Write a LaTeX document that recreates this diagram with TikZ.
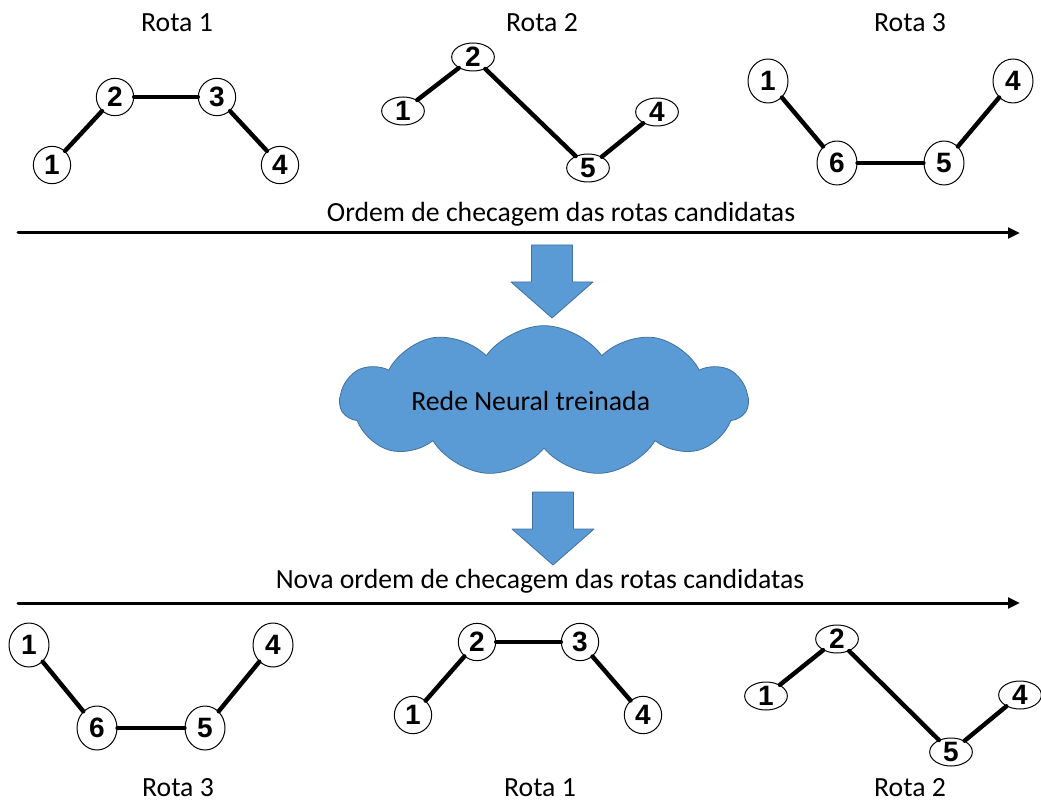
\documentclass[tikz,border=0pt]{standalone}
\usepackage{fontspec}
\setmainfont{Carlito}
\newfontfamily\digitfont{Liberation Sans}
\usetikzlibrary{arrows.meta,shapes.symbols,shapes.geometric}
\definecolor{cloudblue}{RGB}{91,155,213}
\definecolor{cloudedge}{RGB}{65,113,156}
\tikzset{
	city/.style={draw,ellipse,line width=.75pt,fill=white,inner sep=0pt,font=\digitfont\bfseries\fontsize{21}{21}\selectfont},
	rone/.style={city,minimum width=28pt,minimum height=28pt},
	rtwo/.style={city,minimum width=32pt,minimum height=21pt},
	rthree/.style={city,minimum width=30pt,minimum height=33pt},
	trecho/.style={line width=3.3pt},
	seta/.style={line width=2.25pt,-{Triangle[length=9pt,width=8pt]}},
	bloco/.style={fill=cloudblue,draw=cloudedge,line width=.6pt},
}
\begin{document}
\begin{tikzpicture}[x=.75pt,y=-.75pt,font=\fontsize{20.8}{24}\selectfont, line join=round, line cap=round]
	\useasboundingbox (0,0) rectangle (1041,805);
	% ordem original
	\path
	(177,23) node (tr1) {Rota 1}
	(542,23) node (tr2) {Rota 2}
	(910,23) node (tr3) {Rota 3}
	(52,165) node[rone] (t11) {1}
	(115,97) node[rone] (t12) {2}
	(217,97) node[rone] (t13) {3}
	(280,165) node[rone] (t14) {4}
	(403,111) node[rtwo] (t21) {1}
	(473,57) node[rtwo] (t22) {2}
	(588,168) node[rtwo] (t25) {5}
	(657,112) node[rtwo] (t24) {4}
	(768,81) node[rthree] (t31) {1}
	(837,163) node[rthree] (t36) {6}
	(944,163) node[rthree] (t35) {5}
	(1013,81) node[rthree] (t34) {4}
	;
	\path (18,233) coordinate (o1) (1020,233) coordinate (o2);
	\draw[seta] (o1)--(o2);
	\node (ordem) at (561,214) {Ordem de checagem das rotas candidatas};
	% rede neural
	\node[cloud,cloud puffs=11,cloud puff arc=110,aspect=2.7,bloco,minimum width=306pt,minimum height=110pt,inner sep=0pt] (rede) at (544,401) {\hspace*{-20pt}Rede Neural treinada};
	\foreach \x/\y in {552/245,553/492}{
		\path[bloco] (\x-20.5,\y)--++(41,0)--++(0,37)--++(20.5,0)--(\x,\y+73)--(\x-41,\y+37)--++(20.5,0)--cycle;
	}
	% nova ordem
	\node (nova) at (540,581) {Nova ordem de checagem das rotas candidatas};
	\path (18,603) coordinate (n1) (1020,603) coordinate (n2);
	\draw[seta] (n1)--(n2);
	\path
	(178,788) node (br3) {Rota 3}
	(540,788) node (br1) {Rota 1}
	(910,788) node (br2) {Rota 2}
	(29,645) node[rthree] (b31) {1}
	(97,728) node[rthree] (b36) {6}
	(205,728) node[rthree] (b35) {5}
	(273,645) node[rthree] (b34) {4}
	(413,715) node[rone] (b11) {1}
	(477,642) node[rone] (b12) {2}
	(580,642) node[rone] (b13) {3}
	(643,715) node[rone] (b14) {4}
	(766,696) node[rtwo] (b21) {1}
	(837,639) node[rtwo] (b22) {2}
	(951,752) node[rtwo] (b25) {5}
	(1020,695) node[rtwo] (b24) {4}
	;
	\foreach \a/\b in {t11/t12,t12/t13,t13/t14,t21/t22,t22/t25,t25/t24,t31/t36,t36/t35,t35/t34,
		b31/b36,b36/b35,b35/b34,b11/b12,b12/b13,b13/b14,b21/b22,b22/b25,b25/b24}{
		\draw[trecho] (\a)--(\b);
	}
\end{tikzpicture}
\end{document}
